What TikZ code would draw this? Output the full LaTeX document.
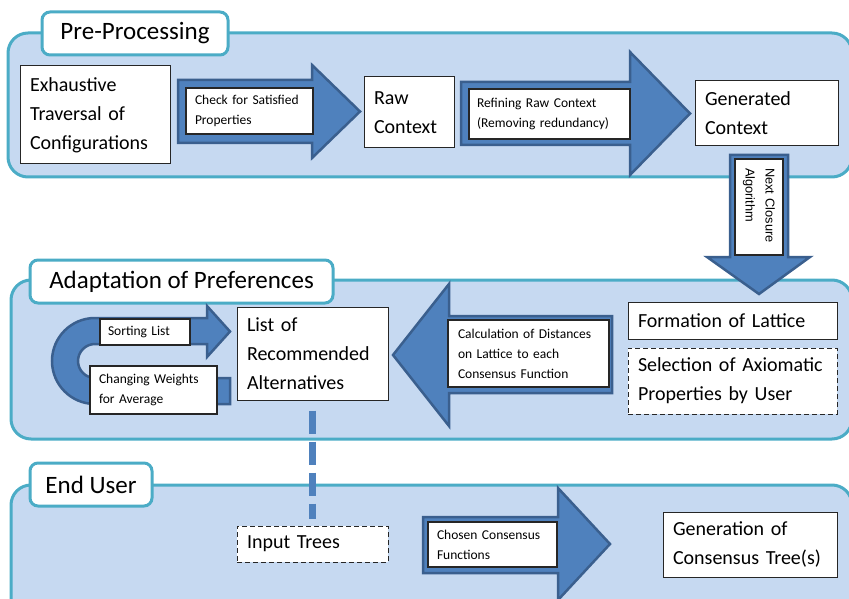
\documentclass[tikz,border=0pt]{standalone}
\usepackage{fontspec}
\setmainfont{Carlito}
\newfontfamily\arialfont{Liberation Sans}
\definecolor{panelfill}{HTML}{C6D9F1}
\definecolor{panelline}{HTML}{4BACC6}
\definecolor{arrfill}{HTML}{4F81BD}
\definecolor{arrline}{HTML}{3A5F8E}
\tikzset{
 panel/.style={draw=panelline, line width=3pt, fill=panelfill, rounded corners=20pt},
 tab/.style={draw=panelline, line width=3pt, fill=white, rounded corners=8pt, minimum height=43pt, inner xsep=0pt, font=\fontsize{25}{30}\selectfont},
 box/.style={draw=black!85, line width=1pt, fill=white, align=left, inner xsep=10pt, inner ysep=0pt, font=\fontsize{20}{29}\selectfont},
 dbox/.style={box, dash pattern=on 5pt off 3pt},
 lbl/.style={draw=black!85, line width=1.2pt, fill=white, align=left, inner xsep=9pt, inner ysep=0pt, font=\fontsize{13.5}{20}\selectfont},
 barrow/.style={fill=arrfill, draw=arrline, line width=2.5pt, line join=miter},
 dashconn/.style={draw=arrfill, line width=7pt, dash pattern=on 23pt off 8pt},
}
\begin{document}
\begin{tikzpicture}[x=1pt,y=-1pt]
\useasboundingbox (0,0) rectangle (849,599);
% panels
\draw[panel] (8,33) rectangle (852,177);
\draw[panel] (11,280) rectangle (852,439);
\draw[panel] (11,485) rectangle (852,625);
\node[tab, minimum width=186pt] (tpre) at (135,33.5) {Pre-Processing};
\node[tab, minimum width=303pt] (tada) at (181.5,281.5) {Adaptation of Preferences};
\node[tab, minimum width=122pt] (tend) at (91,484.5) {End User};
% block arrows
\path[barrow] (178,80) -- (312,80) -- (312,65) -- (360,111.5) -- (312,158) -- (312,143) -- (178,143) -- cycle;
\path[barrow] (461,82) -- (630,82) -- (630,52) -- (690,113.5) -- (630,175) -- (630,145) -- (461,145) -- cycle;
\path[barrow] (730,155) -- (788,155) -- (788,257) -- (810,257) -- (759,294) -- (707,257) -- (730,257) -- cycle;
\path[barrow] (612,316) -- (449,316) -- (449,284) -- (393,355) -- (449,426) -- (449,393) -- (612,393) -- cycle;
\path[barrow] (423,517) -- (558,517) -- (558,488) -- (610,544) -- (558,600) -- (558,573) -- (423,573) -- cycle;
\path[barrow] (230,378) -- (95,378) arc[start angle=90,end angle=270,radius=17] -- (207,344) -- (207,357) -- (230,331.5) -- (207,306) -- (207,318) -- (95,318) arc[start angle=270,end angle=90,radius=43] -- (230,404) -- cycle;
% boxes
\node[box, text width=130pt, minimum height=98pt] (exh) at (95,115) {Exhaustive\\Traversal of\\Configurations};
\node[box, text width=70pt, minimum height=71pt] (raw) at (409,112.5) {Raw\\Context};
\node[box, text width=123pt, minimum height=65pt] (gen) at (766.5,113.5) {Generated\\Context};
\node[box, text width=131pt, minimum height=93pt] (list) at (312.5,353.5) {List of\\Recommended\\Alternatives};
\node[box, text width=189pt, minimum height=37pt] (form) at (732.5,320.5) {Formation of Lattice};
\node[dbox, text width=189pt, minimum height=66pt] (sel) at (732.5,381) {Selection of Axiomatic\\Properties by User};
\node[dbox, text width=131pt, minimum height=36pt] (inp) at (312.5,544) {Input Trees};
\node[box, text width=154pt, minimum height=65pt] (genc) at (750,544.5) {Generation of\\Consensus Tree(s)};
% labels on arrows
\node[lbl, text width=109pt, minimum height=46pt] (l1) at (249.5,111) {Check for Satisfied\\Properties};
\node[lbl, text width=145pt, inner xsep=8pt, minimum height=50pt] (l2) at (549.5,114) {Refining Raw Context\\(Removing redundancy)};
\node[lbl, rotate=-90, text width=78pt, minimum height=48pt, font=\arialfont\fontsize{12.8}{20}\selectfont] (l3) at (759,207) {Next Closure\\Algorithm};
\node[lbl, text width=74pt, inner xsep=8pt, minimum height=26pt] (l4) at (145,332) {Sorting List};
\node[lbl, text width=109pt, minimum height=48pt] (l5) at (153.5,390) {Changing Weights\\for Average};
\node[lbl, text width=141pt, inner xsep=10pt, minimum height=67pt] (l6) at (528.5,353.5) {Calculation of Distances\\on Lattice to each\\Consensus Function};
\node[lbl, text width=111pt, minimum height=45pt] (l7) at (492.5,544.5) {Chosen Consensus\\Functions};
% dashed connector
\draw[dashconn, shorten <=10pt, shorten >=7pt] (list.south) -- (inp.north);
\end{tikzpicture}
\end{document}
